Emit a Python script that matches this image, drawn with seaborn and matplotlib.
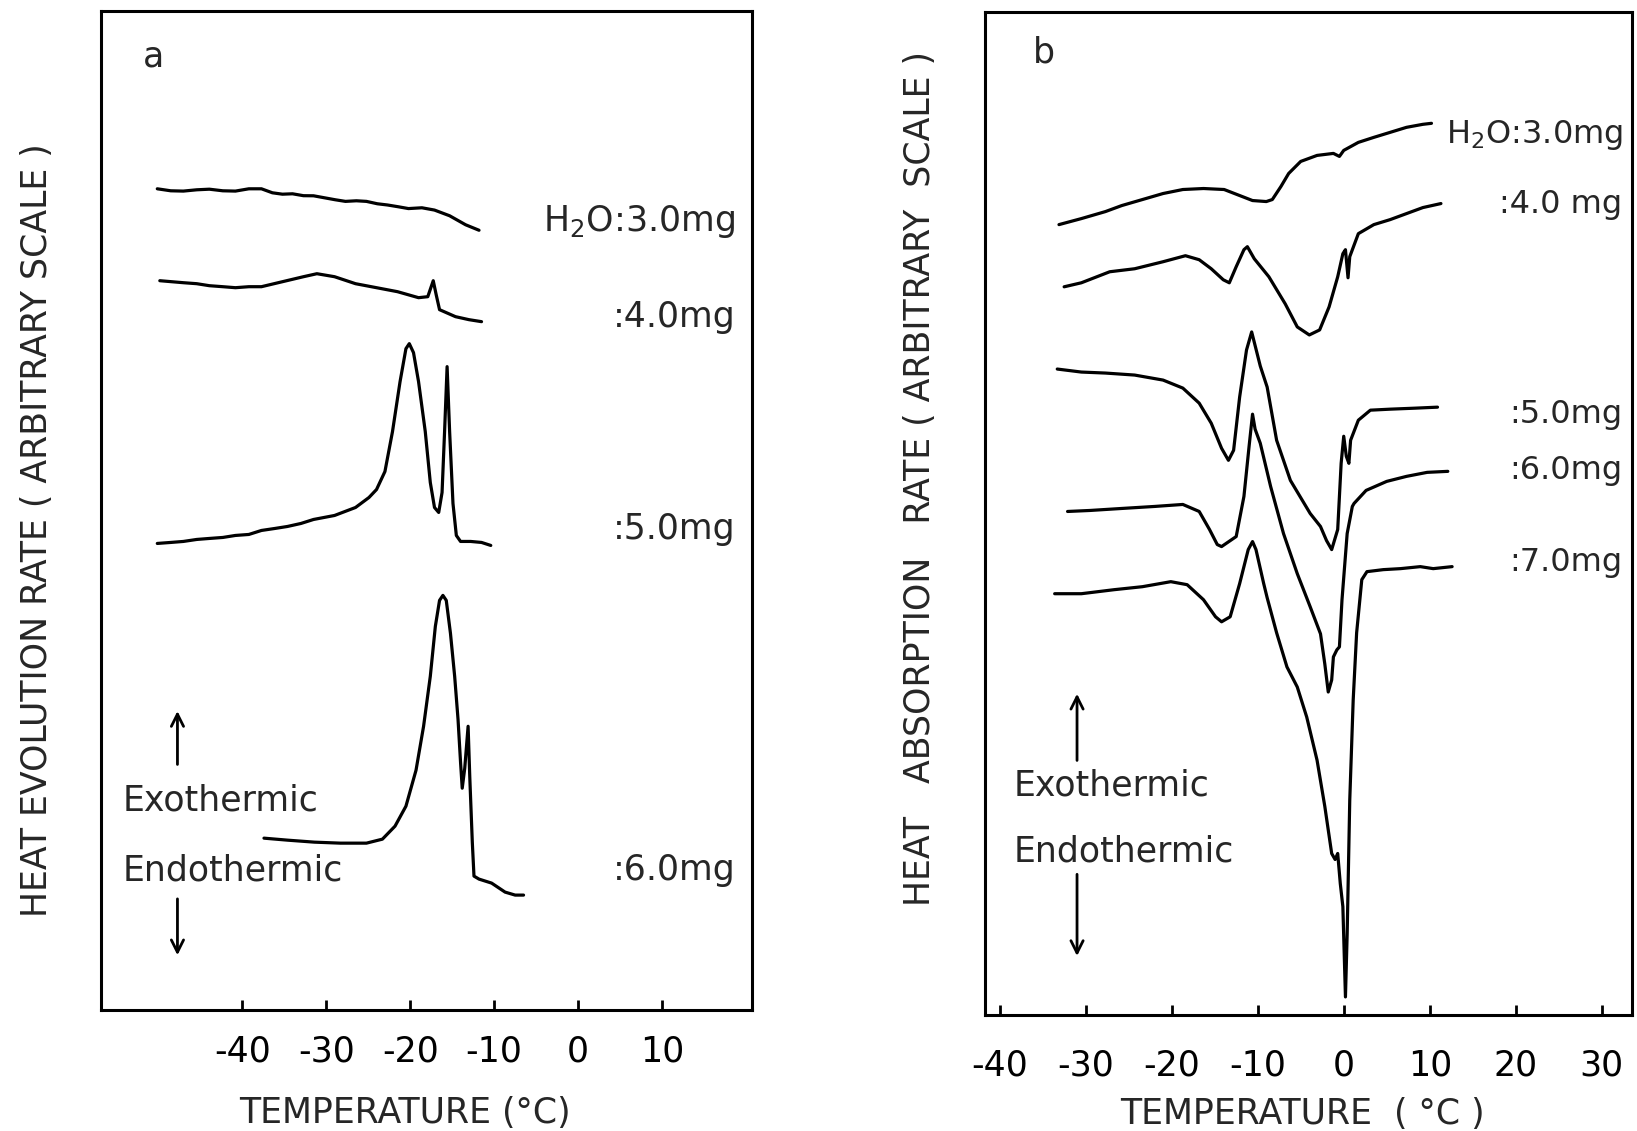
import numpy as np
import pandas as pd
import matplotlib
matplotlib.use("Agg")
import matplotlib.pyplot as plt
import seaborn as sns

# ---------------- data: panel a (heat evolution) ----------------
a_t_30 = [-50.1, -48.5, -47.0, -45.4, -43.9, -42.3, -40.8, -39.2, -37.7, -36.4, -35.2, -34.0, -32.7,
          -31.5, -30.2, -28.9, -27.7, -26.4, -25.2, -23.9, -22.7, -21.4, -20.2, -18.6, -17.1, -15.3, -13.4, -11.8]
a_y_30 = [82.2, 82.0, 81.97, 82.1, 82.16, 82.0, 81.97, 82.2, 82.2, 81.8, 81.66, 81.7, 81.51,
          81.5, 81.3, 81.1, 80.94, 81.0, 80.94, 80.7, 80.58, 80.4, 80.22, 80.3, 80.07, 79.5, 78.6, 78.05]

a_t_40 = [-49.8, -47.0, -45.4, -43.9, -42.3, -40.8, -39.2, -37.7, -35.2, -32.7, -31.1, -29.0, -26.5,
          -24.0, -21.5, -19.0, -17.9, -17.25, -16.9, -16.5, -14.6, -13.0, -11.5]
a_y_40 = [73.0, 72.8, 72.7, 72.5, 72.4, 72.3, 72.4, 72.4, 72.9, 73.4, 73.7, 73.4, 72.7,
          72.3, 71.9, 71.3, 71.4, 73.0, 71.6, 70.1, 69.4, 69.1, 68.9]

a_t_50 = [-50.1, -48.5, -47.0, -45.4, -43.9, -42.3, -40.8, -39.2, -37.7, -36.1, -34.6, -33.0, -31.5,
          -29.0, -26.5, -24.9, -24.0, -23.0, -22.1, -21.2, -20.5, -20.1, -19.6, -19.0, -18.2, -17.6,
          -17.1, -16.6, -16.2, -15.9, -15.6, -15.3, -14.9, -14.5, -14.0, -12.8, -11.5, -10.4]
a_y_50 = [46.7, 46.8, 46.9, 47.1, 47.2, 47.3, 47.5, 47.6, 48.0, 48.2, 48.4, 48.7, 49.1,
          49.5, 50.3, 51.3, 52.1, 53.9, 57.9, 62.9, 66.2, 66.7, 65.8, 62.9, 57.9, 52.8,
          50.3, 49.8, 51.8, 57.9, 64.4, 57.9, 50.7, 47.5, 46.9, 46.9, 46.8, 46.5]

a_t_60 = [-37.4, -34.6, -31.4, -28.3, -25.2, -23.3, -21.8, -20.5, -19.3, -18.4, -17.6, -17.0, -16.5,
          -16.1, -15.7, -15.2, -14.7, -14.3, -14.0, -13.8, -13.5, -13.1, -12.9, -12.6, -12.4, -11.8,
          -10.3, -8.7, -7.5, -6.5]
a_y_60 = [17.2, 17.0, 16.8, 16.7, 16.7, 17.1, 18.4, 20.4, 24.0, 28.4, 33.4, 38.4, 41.0,
          41.5, 41.0, 37.7, 33.4, 29.1, 24.8, 22.2, 24.2, 28.4, 23.3, 16.8, 13.4, 13.1,
          12.7, 11.8, 11.5, 11.5]

# ---------------- data: panel b (heat absorption) ----------------
b_t_30 = [-33.1, -30.5, -27.7, -25.8, -23.4, -21.0, -18.7, -16.3, -13.9, -12.1, -10.6, -9.0, -8.3,
          -7.3, -6.4, -5.0, -3.1, -1.2, -0.5, 0.0, 1.7, 3.5, 5.4, 7.3, 9.2, 10.2]
b_y_30 = [78.8, 79.4, 80.1, 80.7, 81.3, 81.9, 82.3, 82.4, 82.3, 81.7, 81.2, 81.1, 81.3,
          82.6, 83.9, 85.1, 85.7, 85.9, 85.6, 86.2, 87.0, 87.5, 88.0, 88.5, 88.8, 88.9]

b_t_40 = [-32.5, -30.5, -27.2, -24.3, -21.0, -18.4, -16.8, -15.4, -14.0, -13.3, -12.5, -11.6, -11.2,
          -10.4, -8.7, -6.8, -5.4, -4.0, -2.8, -1.7, -0.7, -0.1, 0.2, 0.5, 0.7, 1.7, 3.5, 5.4,
          7.3, 9.2, 11.3]
b_y_40 = [72.6, 73.0, 74.1, 74.4, 75.1, 75.7, 75.3, 74.4, 73.3, 73.0, 74.6, 76.3, 76.6,
          75.4, 73.6, 70.9, 68.6, 67.8, 68.3, 70.6, 73.6, 75.9, 76.3, 73.5, 75.6, 77.9, 78.8, 79.3,
          79.9, 80.5, 80.9]

b_t_50 = [-33.3, -30.5, -27.7, -24.3, -21.0, -18.7, -16.8, -15.4, -14.2, -13.4, -12.8, -12.1, -11.3,
          -10.7, -9.7, -8.9, -7.8, -6.2, -3.9, -2.7, -2.0, -1.4, -0.7, -0.3, 0.0, 0.3, 0.6, 0.8,
          1.7, 3.1, 5.4, 8.3, 10.9]
b_y_50 = [64.4, 64.1, 64.0, 63.8, 63.3, 62.5, 61.0, 59.0, 56.5, 55.3, 56.3, 61.6, 66.3,
          68.1, 64.7, 62.6, 57.3, 53.3, 50.0, 48.7, 47.3, 46.4, 48.4, 55.0, 57.7, 55.7, 55.0, 57.3,
          59.3, 60.3, 60.4, 60.5, 60.6]

b_t_60 = [-32.1, -29.5, -25.8, -22.0, -18.7, -16.8, -15.6, -14.7, -14.2, -12.5, -11.6, -11.0, -10.6,
          -10.3, -9.7, -8.5, -7.0, -5.4, -3.9, -2.7, -2.2, -1.8, -1.4, -1.2, -0.8, -0.5, -0.2, 0.4,
          1.0, 1.2, 2.6, 5.0, 7.3, 9.7, 12.1]
b_y_60 = [50.2, 50.3, 50.5, 50.7, 50.9, 50.2, 48.4, 46.9, 46.7, 47.7, 51.7, 56.7, 59.9,
          58.4, 57.0, 52.7, 48.0, 44.0, 40.7, 38.0, 35.0, 32.2, 33.4, 35.7, 36.4, 36.7, 41.4, 48.0,
          50.7, 51.0, 52.3, 53.2, 53.7, 54.1, 54.2]

b_t_70 = [-33.6, -30.5, -26.7, -23.4, -20.1, -18.2, -16.3, -14.9, -14.2, -13.2, -12.1, -11.1, -10.6,
          -10.2, -9.3, -8.9, -7.8, -6.6, -5.4, -4.3, -3.1, -2.2, -1.4, -1.0, -0.7, -0.4, -0.1, 0.2,
          0.4, 0.7, 1.1, 1.5, 2.1, 2.7, 4.6, 6.6, 8.9, 10.4, 12.6]
b_y_70 = [42.0, 42.0, 42.4, 42.7, 43.2, 42.9, 41.4, 39.7, 39.2, 39.7, 43.0, 46.4, 47.2,
          46.4, 43.0, 41.6, 38.1, 34.7, 32.7, 29.7, 25.4, 20.8, 16.1, 15.5, 16.1, 13.1, 10.8, 1.8,
          8.1, 21.4, 31.4, 38.1, 43.4, 44.2, 44.4, 44.5, 44.7, 44.5, 44.7]

# labels
a_labels = ["H$_2$O:3.0mg", ":4.0mg", ":5.0mg", ":6.0mg"]
a_label_y = [78.9, 69.4, 48.1, 14.0]
b_labels = ["H$_2$O:3.0mg", ":4.0 mg", ":5.0mg", ":6.0mg", ":7.0mg"]
b_label_y = [87.7, 80.8, 59.9, 54.3, 45.1]
a_ticks = [-40, -30, -20, -10, 0, 10]
b_ticks = [-40, -30, -20, -10, 0, 10, 20, 30]

# ---------------- build frames ----------------
def frame(curves):
    rows = []
    for name, (t, y) in curves.items():
        rows.append(pd.DataFrame({"T": t, "Y": y, "sample": name}))
    return pd.concat(rows, ignore_index=True)

df_a = frame({"3.0": (a_t_30, a_y_30), "4.0": (a_t_40, a_y_40),
              "5.0": (a_t_50, a_y_50), "6.0": (a_t_60, a_y_60)})
df_b = frame({"3.0": (b_t_30, b_y_30), "4.0": (b_t_40, b_y_40), "5.0": (b_t_50, b_y_50),
              "6.0": (b_t_60, b_y_60), "7.0": (b_t_70, b_y_70)})

sns.set_style("white")
plt.rcParams["font.family"] = ["DejaVu Sans"]
plt.rcParams["axes.unicode_minus"] = False
plt.rcParams["mathtext.fontset"] = "dejavusans"

FS = 25
FS_B = 23
fig = plt.figure(figsize=(16.37, 11.31), dpi=100)
ax_a = fig.add_axes([0.0617, 0.1070, 0.3977, 0.8833])
ax_b = fig.add_axes([0.6017, 0.1026, 0.3952, 0.8868])

for ax, df in ((ax_a, df_a), (ax_b, df_b)):
    for name, g in df.groupby("sample", sort=False):
        sns.lineplot(data=g, x="T", y="Y", ax=ax, color="black", lw=2.3,
                     sort=False, estimator=None, legend=False)
    ax.set_ylim(0, 100)
    ax.set_yticks([])
    for s in ax.spines.values():
        s.set_visible(True)
        s.set_color("black")
        s.set_linewidth(2.2)
    ax.tick_params(axis="x", direction="in", length=7, width=2,
                   labelsize=FS, bottom=True, colors="black")

ax_a.tick_params(axis="x", pad=18)
ax_b.tick_params(axis="x", pad=24)

ax_a.set_xlim(-56.8, 20.7)
ax_a.set_xticks(a_ticks)
ax_b.set_xlim(-41.7, 33.5)
ax_b.set_xticks(b_ticks)

ax_a.set_xlabel("TEMPERATURE (°C)", fontsize=FS)
ax_b.set_xlabel("TEMPERATURE  ( °C )", fontsize=FS)
ax_a.xaxis.set_label_coords(0.467, -0.086)
ax_b.xaxis.set_label_coords(0.491, -0.082)

ax_a.set_ylabel("HEAT EVOLUTION RATE ( ARBITRARY SCALE )", fontsize=FS)
ax_b.set_ylabel("HEAT   ABSORPTION   RATE ( ARBITRARY  SCALE )", fontsize=FS)
ax_a.yaxis.set_label_coords(-0.072, 0.48)
ax_b.yaxis.set_label_coords(-0.074, 0.535)

for lab, yv in zip(a_labels, a_label_y):
    ax_a.text(18.7, yv, lab, fontsize=FS, ha="right", va="center")
for lab, yv in zip(b_labels, b_label_y):
    ax_b.text(32.4, yv, lab, fontsize=FS_B, ha="right", va="center")

ax_a.text(-50.6, 95.4, "a", fontsize=FS, ha="center", va="center")
ax_b.text(-34.8, 96.0, "b", fontsize=FS, ha="center", va="center")

arrow = dict(arrowstyle="->", lw=2, color="black", mutation_scale=22)
# panel a exo/endo
ax_a.annotate("", xy=(-47.7, 30.2), xytext=(-47.7, 24.3), arrowprops=arrow)
ax_a.text(-54.2, 21.0, "Exothermic", fontsize=FS, ha="left", va="center")
ax_a.text(-54.2, 14.0, "Endothermic", fontsize=FS, ha="left", va="center")
ax_a.annotate("", xy=(-47.7, 5.2), xytext=(-47.7, 11.4), arrowprops=arrow)
# panel b exo/endo
ax_b.annotate("", xy=(-31.0, 32.3), xytext=(-31.0, 25.1), arrowprops=arrow)
ax_b.text(-38.4, 22.9, "Exothermic", fontsize=FS, ha="left", va="center")
ax_b.text(-38.4, 16.3, "Endothermic", fontsize=FS, ha="left", va="center")
ax_b.annotate("", xy=(-31.0, 5.6), xytext=(-31.0, 14.3), arrowprops=arrow)

fig.savefig("out.png", dpi=100, facecolor="white")
